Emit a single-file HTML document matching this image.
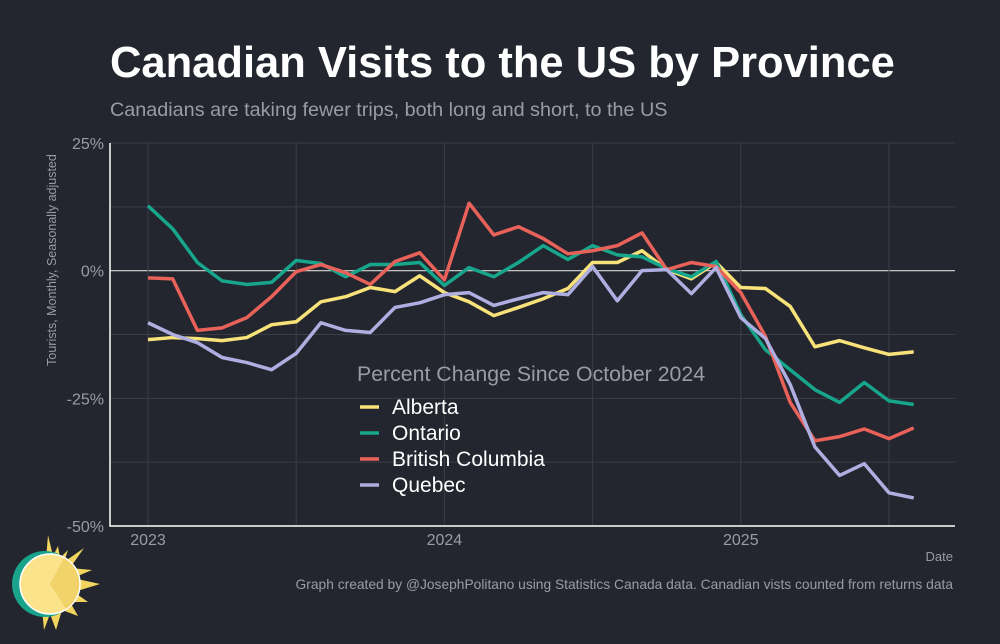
<!DOCTYPE html>
<html><head><meta charset="utf-8"><style>
body{margin:0;background:#23262e;width:1000px;height:639px;overflow:hidden;font-family:"Liberation Sans",sans-serif}
</style></head><body>
<svg width="1000" height="639" viewBox="0 0 1000 639">
<rect width="1000" height="639" fill="#23262e"/>
<text x="110" y="77" fill="#fff" font-size="43.5" font-weight="bold">Canadian Visits to the US by Province</text>
<text x="110" y="116" fill="#9a9ca3" font-size="19.8">Canadians are taking fewer trips, both long and short, to the US</text>
<text transform="translate(56,260) rotate(-90)" text-anchor="middle" fill="#9a9ca3" font-size="12.5">Tourists, Monthly, Seasonally adjusted</text>
<g id="grid"></g><g id="axes"></g><g id="series"></g>
<g>
<text x="357" y="381" fill="#9a9ca3" font-size="21.3">Percent Change Since October 2024</text>
<g id="legend"></g>
</g>
<text x="953" y="561" text-anchor="end" fill="#9a9ca3" font-size="13">Date</text>
<text x="953" y="589" text-anchor="end" fill="#9a9ca3" font-size="13.8">Graph created by @JosephPolitano using Statistics Canada data. Canadian vists counted from returns data</text>
<g>
<polygon points="48,535 53,556 58,546 60,558 68,550 64,562 84,548 70,568 92,570 73,578 100,584 74,592 88,602 70,602 78,616 62,610 56,630 50,614 44,630 42,608" fill="#f2d55e"/>
<circle cx="45" cy="584" r="33" fill="#1aa38b"/>
<circle cx="50" cy="584" r="30" fill="#fbe38c" stroke="#fff" stroke-width="1.5"/>
<path d="M50,584 L64,558 A30,30 0 0 1 66,609 Z" fill="#f1d36a"/>
</g>
</svg>
<script>
const months=["2023-01","2023-02","2023-03","2023-04","2023-05","2023-06","2023-07","2023-08","2023-09","2023-10","2023-11","2023-12","2024-01","2024-02","2024-03","2024-04","2024-05","2024-06","2024-07","2024-08","2024-09","2024-10","2024-11","2024-12","2025-01","2025-02","2025-03","2025-04","2025-05","2025-06","2025-07","2025-08"];
const alberta=[-13.5,-13.1,-13.3,-13.7,-13.1,-10.6,-10,-6.1,-5.1,-3.3,-4.1,-1,-4.3,-6.1,-8.8,-7.2,-5.5,-3.5,1.6,1.6,3.9,0.2,-1.6,1.6,-3.3,-3.5,-7,-14.9,-13.7,-15.1,-16.4,-15.9];
const ontario=[12.7,8.2,1.6,-2,-2.7,-2.3,2,1.4,-1.2,1.2,1.2,1.6,-2.9,0.6,-1.2,1.6,4.9,2.2,4.9,3.1,2.7,0.4,-1.2,1.8,-8.6,-15.5,-19.4,-23.3,-25.8,-21.9,-25.5,-26.2];
const bc=[-1.4,-1.6,-11.7,-11.2,-9.2,-5.1,-0.2,1.2,-0.4,-2.7,1.8,3.5,-1.8,13.2,7.0,8.6,6.3,3.3,3.9,4.9,7.4,0.2,1.6,0.8,-4.3,-12.9,-25.8,-33.3,-32.5,-31.0,-32.9,-30.8];
const quebec=[-10.2,-12.5,-14.1,-17,-18,-19.4,-16.2,-10.2,-11.7,-12.1,-7.2,-6.3,-4.7,-4.3,-6.8,-5.5,-4.3,-4.7,0.8,-5.9,0,0.2,-4.5,0.6,-9.2,-13.3,-22.3,-34.5,-40.1,-37.8,-43.5,-44.5];
const seriesNames=["Alberta","Ontario","British Columbia","Quebec"];
const seriesColors=["#f8e27a","#17a58c","#e8625a","#aeaee0"];
const yTicks=[25,0,-25,-50];
const yTickLabels=["25%","0%","-25%","-50%"];
const yGrid=[25,12.5,0,-12.5,-25,-37.5];
const xTickLabels=["2023","2024","2025"];
const NS="http://www.w3.org/2000/svg";
const X0=110,X1=955,Y0=143,Y1=526;
const xs=i=>148+i*24.7;
const ys=v=>Y0+(25-v)/75*(Y1-Y0);
function mk(tag,attrs,parent){const e=document.createElementNS(NS,tag);for(const k in attrs)e.setAttribute(k,attrs[k]);parent.appendChild(e);return e;}
const grid=document.getElementById('grid'),axes=document.getElementById('axes'),ser=document.getElementById('series'),leg=document.getElementById('legend');
yGrid.forEach(v=>{const l=mk('line',{x1:X0,x2:X1,y1:ys(v),y2:ys(v),stroke:v===0?'#d8d8d8':'#3a3d45','stroke-width':v===0?1.2:1},grid);

});
for(let k=0;k<6;k++){const l=mk('line',{x1:xs(k*6),x2:xs(k*6),y1:Y0,y2:Y1,stroke:'#3a3d45'},grid);

}
const ax=mk('path',{d:`M${X0},${Y0} V${Y1} H${X1}`,stroke:'#fff','stroke-width':1.5,fill:'none'},axes);


yTicks.forEach((v,i)=>{const t=mk('text',{x:104,y:ys(v)+6,'text-anchor':'end',fill:'#9a9ca3','font-size':16},axes);t.textContent=yTickLabels[i];

});
xTickLabels.forEach((s,i)=>{const t=mk('text',{x:xs(i*12),y:545,'text-anchor':'middle',fill:'#9a9ca3','font-size':16},axes);t.textContent=s;

});
[alberta,ontario,bc,quebec].forEach((arr,si)=>{
const p=mk('polyline',{points:arr.map((v,i)=>xs(i)+','+ys(v)).join(' '),fill:'none',stroke:seriesColors[si],'stroke-width':3.5,'stroke-linejoin':'round'},ser);


const y=407+si*26;
const g=mk('g',{},leg);


mk('line',{x1:360,x2:379,y1:y,y2:y,stroke:seriesColors[si],'stroke-width':3.5},g);
const t=mk('text',{x:392,y:y+7,fill:'#fff','font-size':21},g);t.textContent=seriesNames[si];
});
</script>
</body></html>
